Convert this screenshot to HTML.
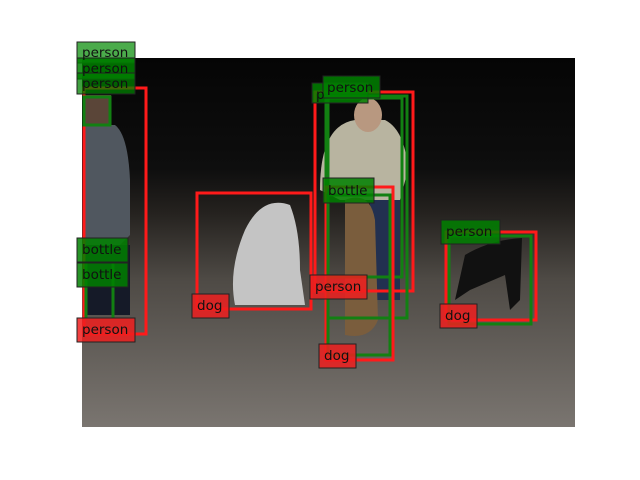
<!DOCTYPE html>
<html><head><style>body{margin:0;background:#fff}svg{display:block}text{font-family:"DejaVu Sans","Liberation Sans",sans-serif;font-size:13.5px;fill:#111}</style></head><body>
<svg width="640" height="480" viewBox="0 0 640 480">
<defs>
<linearGradient id="bg" x1="0" y1="0" x2="0" y2="1">
<stop offset="0" stop-color="#050505"/><stop offset="0.3" stop-color="#0e0e0e"/><stop offset="0.42" stop-color="#25221f"/><stop offset="0.6" stop-color="#4e4a45"/><stop offset="1" stop-color="#7a7570"/></linearGradient>
</defs>
<rect x="82" y="58" width="493" height="369" fill="url(#bg)"/>
<rect x="83" y="95" width="28" height="30" fill="#5a4538"/>
<path d="M83 125 L115 125 Q128 135 130 180 L130 235 L120 245 L83 245Z" fill="#50575f"/>
<rect x="85" y="245" width="45" height="70" fill="#151a28"/>
<path d="M320 190 Q320 125 355 120 L385 120 Q405 130 408 170 L400 200 L340 200Z" fill="#b8b4a0"/>
<ellipse cx="368" cy="115" rx="14" ry="17" fill="#b89880"/>
<rect x="370" y="200" width="30" height="100" fill="#223050"/>
<path d="M345 200 Q370 190 375 220 L378 320 Q370 340 345 335 Z" fill="#7a5d3d"/>
<path d="M245 230 Q262 195 290 205 Q300 230 300 270 L305 305 L235 305 Q228 270 245 230Z" fill="#c4c4c4"/>
<path d="M465 255 Q490 240 522 238 L520 300 L510 310 L505 275 L470 290 L455 300 Z" fill="#111"/>
<g fill="none" stroke-width="3">
<rect x="84" y="88" width="62" height="246" stroke="#ff1a1a"/>
<rect x="84" y="97" width="26" height="28" stroke="#128012"/>
<line x1="86" y1="262" x2="86" y2="318" stroke="#128012"/>
<line x1="113" y1="262" x2="113" y2="318" stroke="#128012"/>
<rect x="197" y="193" width="114" height="116" stroke="#ff1a1a"/>
<rect x="315" y="92" width="98" height="199" stroke="#ff1a1a"/>
<rect x="326" y="96" width="81" height="222" stroke="#128012"/>
<rect x="328" y="98" width="74" height="179" stroke="#128012"/>
<rect x="326" y="187" width="67" height="173" stroke="#ff1a1a"/>
<rect x="328" y="195" width="62" height="160" stroke="#128012"/>
<rect x="446" y="232" width="90" height="88" stroke="#ff1a1a"/>
<rect x="449" y="236" width="82" height="88" stroke="#128012"/>
</g>
<g stroke="#222" stroke-width="1">
<rect x="77" y="42" width="58" height="21" fill="rgba(30,150,30,0.8)"/>
<rect x="77" y="58" width="58" height="21" fill="rgba(0,128,0,0.85)"/>
<rect x="77" y="73" width="58" height="21" fill="rgba(0,128,0,0.75)"/>
<rect x="77" y="238" width="51" height="24" fill="rgba(0,128,0,0.85)"/>
<rect x="77" y="263" width="51" height="24" fill="rgba(0,128,0,0.85)"/>
<rect x="77" y="318" width="58" height="24" fill="rgba(240,30,30,0.85)"/>
<rect x="192" y="294" width="37" height="24" fill="rgba(240,30,30,0.85)"/>
<rect x="312" y="83" width="56" height="20" fill="rgba(0,128,0,0.85)"/>
<rect x="323" y="76" width="57" height="22" fill="rgba(0,128,0,0.85)"/>
<rect x="323" y="178" width="51" height="25" fill="rgba(0,128,0,0.85)"/>
<rect x="310" y="275" width="57" height="24" fill="rgba(240,30,30,0.85)"/>
<rect x="319" y="344" width="37" height="24" fill="rgba(240,30,30,0.85)"/>
<rect x="441" y="220" width="59" height="24" fill="rgba(0,128,0,0.85)"/>
<rect x="440" y="304" width="37" height="24" fill="rgba(240,30,30,0.85)"/>
</g>
<text x="82" y="57">person</text>
<text x="82" y="73">person</text>
<text x="82" y="88">person</text>
<text x="82" y="254">bottle</text>
<text x="82" y="279">bottle</text>
<text x="82" y="334">person</text>
<text x="197" y="310">dog</text>
<text x="316" y="99">p</text>
<text x="327" y="92">person</text>
<text x="328" y="195">bottle</text>
<text x="315" y="291">person</text>
<text x="324" y="360">dog</text>
<text x="446" y="236">person</text>
<text x="445" y="320">dog</text>
</svg>
</body></html>
